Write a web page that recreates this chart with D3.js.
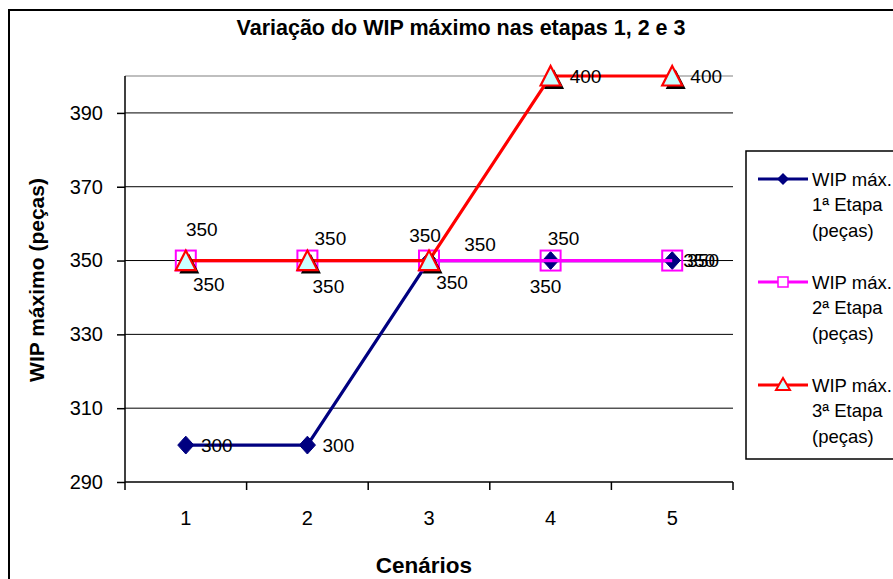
<!DOCTYPE html>
<html><head><meta charset="utf-8">
<script src="https://cdn.jsdelivr.net/npm/d3@7"></script>
<style>html,body{margin:0;padding:0;background:#fff;overflow:hidden}svg{display:block}text{font-family:Arial,"Liberation Sans",sans-serif}</style>
</head><body>
<script>
const categories = ["1","2","3","4","5"];
const wip1 = [300,300,350,350,350];
const wip2 = [350,350,350,350,350];
const wip3 = [350,350,350,400,400];
const seriesNames = [["WIP máx.","1ª Etapa","(peças)"],["WIP máx.","2ª Etapa","(peças)"],["WIP máx.","3ª Etapa","(peças)"]];
const yTicks = [290,310,330,350,370,390];
const title = "Variação do WIP máximo nas etapas 1, 2 e 3";
const xTitle = "Cenários";
const yTitle = "WIP máximo (peças)";

// label placement (styling), offsets of label centre from the point
const labelOffsets = [
  [[31,0],[31,0],[23,22],[-5,26],[27,0]],
  [[16,-31],[23,-22],[51,-16],[13,-22],[31,0]],
  [[23,24],[21,26],[-4,-25],[35,0],[34,0]]
];

const W=893,H=579;
const svg=d3.select("body").append("svg").attr("width",W).attr("height",H);
svg.append("rect").attr("x",9).attr("y",10).attr("width",W).attr("height",H).attr("fill","#fff").attr("stroke","#000").attr("stroke-width",2);

const x=d3.scaleBand().domain(categories).range([125,733]);
const y=d3.scaleLinear().domain([290,400]).range([482,76]);
const cx=c=>x(c)+x.bandwidth()/2;

// gridlines
svg.append("g").selectAll("line").data(yTicks.slice(1)).join("line")
  .attr("x1",125).attr("x2",733).attr("y1",d=>y(d)).attr("y2",d=>y(d)).attr("stroke","#000").attr("stroke-width",1);
svg.append("line").attr("x1",125).attr("x2",733).attr("y1",y(400)).attr("y2",y(400)).attr("stroke","#808080").attr("stroke-width",1.2);

// y axis
const ya=svg.append("g").attr("transform","translate(125,0)").call(d3.axisLeft(y).tickValues(yTicks).tickSize(8).tickPadding(14));
ya.select(".domain").attr("d",`M0,${y(400)}V${y(290)}`).attr("stroke","#000").attr("stroke-width",1.5);
ya.selectAll(".tick line").attr("stroke","#000").attr("stroke-width",1.5);
ya.selectAll("text").attr("font-size",20).attr("fill","#000").attr("font-family","Arial,'Liberation Sans',sans-serif");

// x axis
const xa=svg.append("g").attr("transform",`translate(0,${y(290)})`).call(d3.axisBottom(x).tickSize(0).tickPadding(29));
xa.select(".domain").attr("d","M125,0H733").attr("stroke","#000").attr("stroke-width",1.5);
xa.selectAll("text").attr("font-size",20).attr("fill","#000").attr("font-family","Arial,'Liberation Sans',sans-serif");
const bounds=categories.map(c=>x(c)).concat([733]);
xa.append("g").selectAll("line").data(bounds).join("line").attr("x1",d=>d).attr("x2",d=>d).attr("y1",0).attr("y2",8).attr("stroke","#000").attr("stroke-width",1.5);

// titles
svg.append("text").attr("x",461).attr("y",35).attr("text-anchor","middle").attr("font-weight","bold").attr("font-size",21.5).text(title);
svg.append("text").attr("x",424).attr("y",573).attr("text-anchor","middle").attr("font-weight","bold").attr("font-size",22.5).text(xTitle);
svg.append("text").attr("transform","translate(44,280) rotate(-90)").attr("text-anchor","middle").attr("font-weight","bold").attr("font-size",21).text(yTitle);

const series=[
  {vals:wip1,color:"#000080",marker:"diamond"},
  {vals:wip2,color:"#FF00FF",marker:"square"},
  {vals:wip3,color:"#FF0000",marker:"triangle"}
];
const line=d3.line().x((d,i)=>cx(categories[i])).y(d=>y(d));

function drawMarker(g,type,color,px,py,s){
  if(type==="diamond"){
    g.append("path").attr("d",`M${px},${py-s*1.05}L${px+s*0.95},${py}L${px},${py+s*1.05}L${px-s*0.95},${py}Z`).attr("fill",color).attr("stroke",color).attr("stroke-width",1);
  } else if(type==="square"){
    g.append("rect").attr("x",px-s).attr("y",py-s).attr("width",2*s).attr("height",2*s).attr("fill","none").attr("stroke",color).attr("stroke-width",2);
  } else {
    const tri=(ox,oy)=>`M${px+ox},${py-s+oy}L${px+s+ox},${py+s*0.95+oy}L${px-s+ox},${py+s*0.95+oy}Z`;
    g.append("path").attr("d",tri(3.5,3.5)).attr("fill","#000");
    g.append("path").attr("d",tri(0,0)).attr("fill","#CCFFFF").attr("stroke",color).attr("stroke-width",2.2).attr("stroke-linejoin","miter");
  }
}

series.forEach(s=>{
  svg.append("path").datum(s.vals).attr("d",line).attr("fill","none").attr("stroke",s.color).attr("stroke-width",3.2);
  const g=svg.append("g");
  s.vals.forEach((v,i)=>drawMarker(g,s.marker,s.color,cx(categories[i]),y(v),s.marker==="diamond"?8.5:10));
});

// data labels
series.forEach((s,si)=>{
  svg.append("g").selectAll("text").data(s.vals).join("text")
    .attr("x",(d,i)=>cx(categories[i])+labelOffsets[si][i][0])
    .attr("y",(d,i)=>y(d)+labelOffsets[si][i][1])
    .attr("text-anchor","middle").attr("dominant-baseline","central")
    .attr("font-size",19).attr("fill","#000").text(d=>d);
});

// legend
const lg=svg.append("g");
lg.append("rect").attr("x",746).attr("y",151).attr("width",200).attr("height",308).attr("fill","#fff").attr("stroke","#000").attr("stroke-width",1.5);
series.forEach((s,i)=>{
  const ly=179+i*103;
  lg.append("line").attr("x1",758).attr("x2",808).attr("y1",ly).attr("y2",ly).attr("stroke",s.color).attr("stroke-width",3.2);
  const mg=lg.append("g");
  if(s.marker==="diamond") mg.append("path").attr("d",`M783,${ly-6}L789,${ly}L783,${ly+6}L777,${ly}Z`).attr("fill",s.color);
  else if(s.marker==="square") mg.append("rect").attr("x",778).attr("y",ly-5).attr("width",10).attr("height",10).attr("fill","#fff").attr("stroke",s.color).attr("stroke-width",1.5);
  else mg.append("path").attr("d",`M783,${ly-7}L790,${ly+5}L776,${ly+5}Z`).attr("fill","#CCFFFF").attr("stroke",s.color).attr("stroke-width",2);
  seriesNames[i].forEach((t,j)=>{
    lg.append("text").attr("x",812).attr("y",ly+j*25.5).attr("dominant-baseline","central").attr("font-size",18.5).attr("fill","#000").text(t);
  });
});
</script>
</body></html>
